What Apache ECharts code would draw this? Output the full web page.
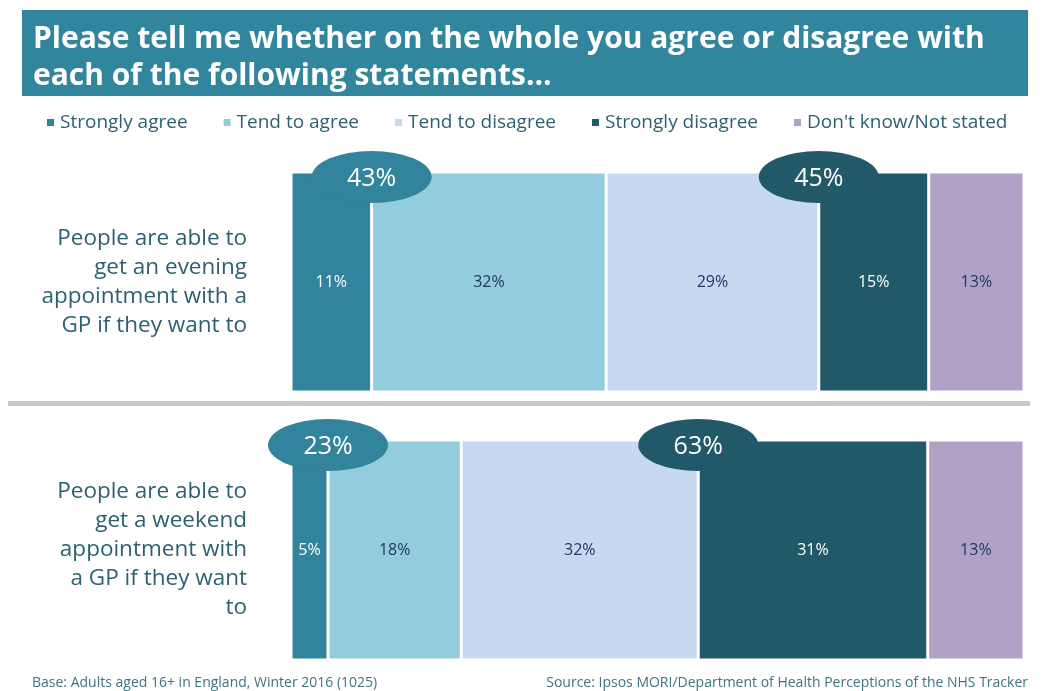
<!DOCTYPE html>
<html>
<head>
<meta charset="utf-8">
<style>
  html, body { margin: 0; padding: 0; background: #fff; }
  #chart { width: 1042px; height: 691px; }
</style>
<script src="https://cdn.jsdelivr.net/npm/echarts@6/dist/echarts.min.js"></script>
</head>
<body>
<div id="chart"></div>
<script>
// Statements (one stacked bar each)
const categories = [
  'People are able to\nget an evening\nappointment with a\nGP if they want to',
  'People are able to\nget a weekend\nappointment with\na GP if they want\nto'
];
const seriesNames = ['Strongly agree', 'Tend to agree', 'Tend to disagree', 'Strongly disagree', "Don't know/Not stated"];

// Percentages per answer, one entry per statement
const stronglyAgree    = [11, 5];
const tendToAgree      = [32, 18];
const tendToDisagree   = [29, 32];
const stronglyDisagree = [15, 31];
const dontKnow         = [13, 13];

// Net figures shown in the bubbles
const netAgree    = [43, 23];
const netDisagree = [45, 63];

const segValues = [stronglyAgree, tendToAgree, tendToDisagree, stronglyDisagree, dontKnow];
const colors = ['#31849B', '#93CDDD', '#C6D9F1', '#215968', '#B2A1C7'];
const labelColors = ['#FFFFFF', '#1F3864', '#1F3864', '#FFFFFF', '#1F3864'];
const FONT = 'Open Sans';
const textTeal = '#2B6170';

const gridTops = [172, 440];
const barH = 220;

const grids = [], xAxes = [], yAxes = [], series = [];

categories.forEach((cat, r) => {
  const total = segValues.reduce((s, arr) => s + arr[r], 0);
  grids.push({ left: 291, right: 18, top: gridTops[r], height: barH, containLabel: false });
  xAxes.push({ type: 'value', gridIndex: r, min: 0, max: total, show: false });
  yAxes.push({
    type: 'category', gridIndex: r, data: [cat],
    axisLine: { show: false }, axisTick: { show: false }, splitLine: { show: false },
    axisLabel: { fontFamily: FONT, fontSize: 22.5, lineHeight: 29, color: textTeal, margin: 44, align: 'right' }
  });
  segValues.forEach((arr, s) => {
    series.push({
      type: 'bar', name: seriesNames[s], xAxisIndex: r, yAxisIndex: r, stack: 'row' + r,
      barWidth: '100%', data: [arr[r]],
      itemStyle: { color: colors[s], borderColor: '#fff', borderWidth: 1.5 },
      label: { show: true, position: 'inside', formatter: '{c}%', fontFamily: FONT, fontSize: 16, color: labelColors[s] },
      emphasis: { disabled: true }
    });
  });
  // Net bubbles sit on the top edge of the bar at the agree / disagree boundaries
  const agreeEdge = stronglyAgree[r];
  const disagreeEdge = stronglyAgree[r] + tendToAgree[r] + tendToDisagree[r];
  series.push({
    type: 'scatter', name: 'Net', xAxisIndex: r, yAxisIndex: r, z: 5,
    symbol: 'circle', symbolSize: [120, 52], symbolOffset: [0, -barH / 2 + 5],
    data: [
      { value: [agreeEdge, 0], net: netAgree[r], itemStyle: { color: colors[0], opacity: 1 } },
      { value: [disagreeEdge, 0], net: netDisagree[r], itemStyle: { color: colors[3], opacity: 1 } }
    ],
    label: {
      show: true, position: 'inside', formatter: p => p.data.net + '%',
      fontFamily: FONT, fontSize: 25, color: '#fff', offset: [0, 2]
    },
    emphasis: { disabled: true }
  });
});

const chart = echarts.init(document.getElementById('chart'), null, { renderer: 'canvas' });
chart.setOption({
  animation: false,
  title: [
    {
      text: 'Please tell me whether on the whole you agree or disagree with\neach of the following statements…',
      left: 28, top: 16, z: 10,
      textStyle: { fontFamily: FONT, fontSize: 30, fontWeight: 'bold', color: '#fff', lineHeight: 37 }
    },
    {
      text: 'Base: Adults aged 16+ in England, Winter 2016 (1025)',
      left: 27, top: 671,
      textStyle: { fontFamily: FONT, fontSize: 14, fontWeight: 'normal', color: '#3F7482' }
    },
    {
      text: 'Source: Ipsos MORI/Department of Health Perceptions of the NHS Tracker',
      right: 9, top: 671,
      textStyle: { fontFamily: FONT, fontSize: 14, fontWeight: 'normal', color: '#3F7482' }
    }
  ],
  graphic: [
    { type: 'rect', z: 0, shape: { x: 22, y: 10, width: 1006, height: 86 }, style: { fill: '#31859C' } },
    { type: 'line', z: 0, shape: { x1: 8, y1: 403.5, x2: 1030, y2: 403.5 }, style: { stroke: '#C8C8C8', lineWidth: 5 } }
  ],
  legend: {
    data: seriesNames, left: 40, top: 108, icon: 'rect', itemWidth: 9, itemHeight: 9, itemGap: 34,
    textStyle: { fontFamily: FONT, fontSize: 19, color: textTeal }, selectedMode: false
  },
  grid: grids, xAxis: xAxes, yAxis: yAxes, series: series
});
</script>
</body>
</html>
